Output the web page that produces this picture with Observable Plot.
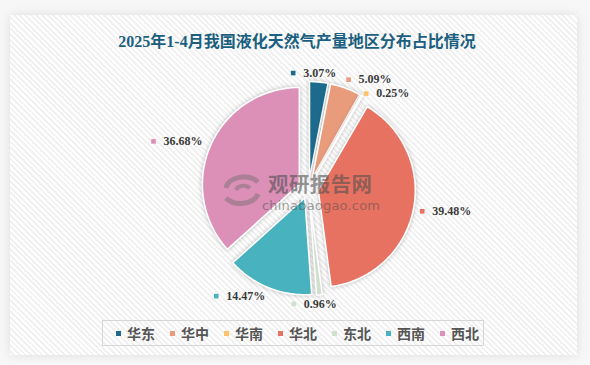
<!DOCTYPE html>
<html><head><meta charset="utf-8">
<script src="https://cdn.jsdelivr.net/npm/d3@7"></script>
<script src="https://cdn.jsdelivr.net/npm/@observablehq/plot@0.6"></script>
<style>
html,body{margin:0;padding:0;background:#fff;}
#wrap{position:relative;width:590px;height:365px;overflow:hidden;background:#f7f7f7;}
#card{position:absolute;left:10px;top:15px;width:567px;height:340px;
  background:repeating-linear-gradient(45deg,#ffffff 0px,#ffffff 2px,#f1f1f1 2px,#f1f1f1 4px);
  box-shadow:0 0 10px rgba(0,0,0,0.10);}
#chart{position:absolute;left:0;top:0;}
#title{position:absolute;left:2px;width:590px;top:28px;height:20px;line-height:20px;text-align:center;
  font:bold 16px "Liberation Serif","Noto Sans CJK SC",serif;color:#1b5f80;white-space:nowrap;}
#legend{position:absolute;left:102px;top:320px;width:382px;height:26px;border:1px solid #d6d6d6;
  box-sizing:border-box;display:flex;align-items:center;padding-left:13px;}
.item{display:flex;align-items:center;width:54px;flex:none;}
.sw{width:5px;height:5px;margin-right:6px;flex:none;}
.lt{font:bold 14px "Noto Sans CJK SC",sans-serif;color:#555;line-height:1;}
#wm{position:absolute;left:0;top:0;width:590px;height:365px;pointer-events:none;}
#wm .cn{position:absolute;left:268px;top:172px;height:22px;font:bold 20.5px/22px "Noto Sans CJK SC",sans-serif;letter-spacing:0.4px;color:rgba(80,80,80,0.6);}
#wm .en{position:absolute;left:262px;top:199px;height:14px;font:13px/14px "DejaVu Sans",sans-serif;letter-spacing:0.2px;color:rgba(80,80,80,0.55);}
</style></head>
<body>
<div id="wrap">
  <div id="card"></div>
  <div id="chart"></div>
  <div id="wm">
    <svg width="590" height="365" style="position:absolute;left:0;top:0">
      <g fill="none" stroke="rgba(110,110,110,0.45)" stroke-width="5">
        <path d="M226,188 A18,13 0 0 1 258,182"/>
        <path d="M258,194 A18,13 0 0 1 226,198"/>
        <path d="M236,190 A8,6 0 0 1 250,188" stroke-width="4"/>
      </g>
    </svg>
    <div class="cn">观研报告网</div>
    <div class="en">chinabaogao.com</div>
  </div>
  <div id="title">2025年1-4月我国液化天然气产量地区分布占比情况</div>
  <div id="legend"></div>
</div>
<script>
const regions = ["华东","华中","华南","华北","东北","西南","西北"];
const shares  = [3.07, 5.09, 0.25, 39.48, 0.96, 14.47, 36.68];
const colors  = ["#1c6a8c","#e99c7c","#fdc26c","#e87261","#cfe0cd","#48b2be","#dc8fb7"];

const W = 590, H = 365;
const cx = 308, cy = 188, r = 97, explode = 10, labelR = 116;

const arcs = d3.pie().sort(null).value(d => d)(shares);

// slice polygons
const pts = [];
arcs.forEach((a, i) => {
  const mid = (a.startAngle + a.endAngle) / 2;
  const ox = cx + explode * Math.sin(mid), oy = cy - explode * Math.cos(mid);
  pts.push({region: regions[i], x: ox, y: oy});
  const n = Math.max(2, Math.ceil((a.endAngle - a.startAngle) / (Math.PI / 180)));
  for (let k = 0; k <= n; k++) {
    const t = a.startAngle + (a.endAngle - a.startAngle) * k / n;
    pts.push({region: regions[i], x: ox + r * Math.sin(t), y: oy - r * Math.cos(t)});
  }
});

// labels
const ctx = document.createElement("canvas").getContext("2d");
ctx.font = "bold 12px 'Liberation Serif'";
const labels = arcs.map((a, i) => {
  const mid = (a.startAngle + a.endAngle) / 2;
  const dx = Math.sin(mid), dy = -Math.cos(mid);
  const ax = cx + labelR * dx, ay = cy + labelR * dy;
  const text = shares[i].toFixed(2) + "%";
  const w = ctx.measureText(text).width;
  let anchor, x0;
  if (Math.abs(dx) < 0.2) { anchor = "middle"; x0 = ax - w / 2 - 10; }
  else if (dx > 0) { anchor = "start"; x0 = ax; }
  else { anchor = "end"; x0 = ax - w - 10; }
  return {region: regions[i], label: text, anchor, w, side: dx >= 0 ? 1 : -1,
          mx: x0, tx: anchor === "start" ? ax + 10 : ax, y: ay, left: x0 - 3, right: x0 + 10 + w};
});
// simple overlap avoidance: push lower label down
[1, -1].forEach(side => {
  const s = labels.filter(l => l.side === side).sort((a, b) => a.y - b.y);
  for (let i = 1; i < s.length; i++) {
    for (let j = 0; j < i; j++) {
      const p = s[j], c = s[i];
      const hOverlap = c.left < p.right && p.left < c.right;
      if (hOverlap && c.y - p.y < 14) c.y = p.y + 14;
    }
  }
});

const plot = Plot.plot({
  width: W, height: H, margin: 0,
  x: {domain: [0, W], range: [0, W], axis: null},
  y: {domain: [0, H], range: [0, H], axis: null},
  color: {domain: regions, range: colors},
  style: {background: "transparent", overflow: "visible"},
  marks: [
    Plot.line(pts, {x: "x", y: "y", z: "region", fill: "region", stroke: "#ffffff",
                    strokeWidth: 1.6, curve: "linear-closed"}),
    Plot.dot(labels, {x: "mx", y: "y", symbol: "square", r: 2.6, fill: "region"}),
    ...["start", "middle", "end"].map(an =>
      Plot.text(labels.filter(l => l.anchor === an), {x: "tx", y: "y", text: "label",
        textAnchor: an, fill: "#3a3a3a", fontSize: 12, fontWeight: "bold",
        fontFamily: "Liberation Serif, serif"}))
  ]
});
document.getElementById("chart").appendChild(plot);
d3.select(plot).selectAll("g[aria-label='line'] path")
  .style("filter", "drop-shadow(0px 0px 2px rgba(0,0,0,0.25))");

// legend
const lg = d3.select("#legend");
regions.forEach((reg, i) => {
  const it = lg.append("div").attr("class", "item");
  it.append("div").attr("class", "sw").style("background", colors[i]);
  it.append("span").attr("class", "lt").text(reg);
});
</script>
</body></html>
